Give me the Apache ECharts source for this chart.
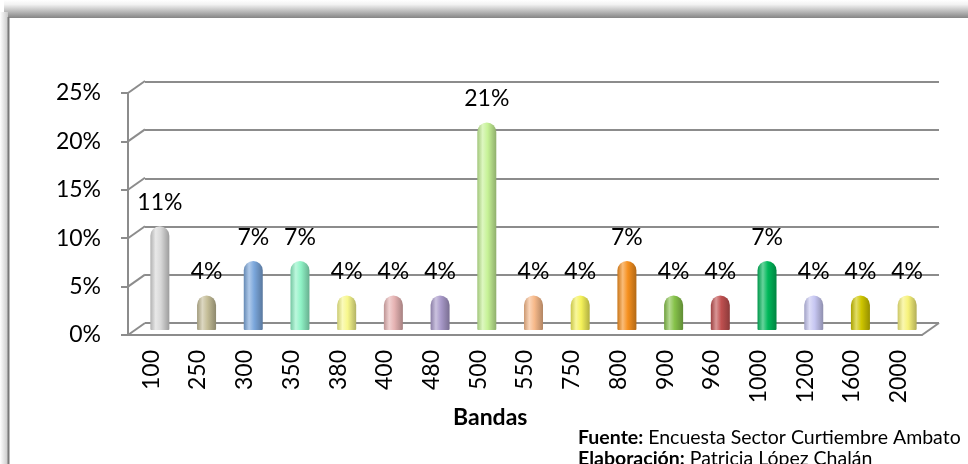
<!DOCTYPE html>
<html>
<head>
<meta charset="utf-8">
<script src="https://cdn.jsdelivr.net/npm/echarts@6/dist/echarts.min.js"></script>
<style>
  html, body { margin: 0; padding: 0; background: #ffffff; }
  #chart { width: 968px; height: 464px; }
</style>
</head>
<body>
<div id="chart"></div>
<script>
// Bandas (categorías) y porcentaje de encuestados en cada una
const categories = ['100', '250', '300', '350', '380', '400', '480', '500', '550', '750', '800', '900', '960', '1000', '1200', '1600', '2000'];
const percentages = [10.71, 3.57, 7.14, 7.14, 3.57, 3.57, 3.57, 21.43, 3.57, 3.57, 7.14, 3.57, 3.57, 7.14, 3.57, 3.57, 3.57];
const yTicks = [0, 5, 10, 15, 20, 25];
const barColors = ['#d8d8d8', '#c4bd97', '#7ba7dc', '#8ff3c6', '#f7f78c', '#e6b3b3', '#a899c9', '#c6f296', '#f7b98a', '#f5f25a', '#f6901e', '#86c24a', '#c05050', '#00b85a', '#c6c6f2', '#cfc600', '#f7f27a'];

const FONT = 'Lato';
const GRID_LINE = '#8c8c8c';
const DEPTH_X = 17, DEPTH_Y = -12;

function mix(hex, target, t) {
  const a = parseInt(hex.slice(1), 16);
  const r = (a >> 16) & 255, g = (a >> 8) & 255, b = a & 255;
  const m = (c) => Math.round(c + (target - c) * t);
  return 'rgb(' + m(r) + ',' + m(g) + ',' + m(b) + ')';
}

// cylinder shading: dark rim, bright highlight left of centre
function cylinder(hex) {
  return new echarts.graphic.LinearGradient(0, 0, 1, 0, [
    { offset: 0, color: mix(hex, 0, 0.18) },
    { offset: 0.28, color: mix(hex, 255, 0.4) },
    { offset: 0.55, color: hex },
    { offset: 1, color: mix(hex, 0, 0.28) }
  ]);
}

const chart = echarts.init(document.getElementById('chart'), null, { renderer: 'canvas' });

const option = {
  backgroundColor: '#ffffff',
  animation: false,
  textStyle: { fontFamily: FONT },
  title: [
    {
      text: 'Bandas', left: 453, top: 406, padding: 0,
      textStyle: { fontFamily: FONT, fontSize: 23, fontWeight: 'bold', color: '#000' }
    },
    {
      text: '{b|Fuente:} {n|Encuesta Sector Curtiembre Ambato}\n{b|Elaboración:} {n|Patricia López Chalán}',
      left: 578, top: 427, padding: 0,
      textStyle: {
        fontFamily: FONT, fontSize: 19.5, fontWeight: 'normal', color: '#000', lineHeight: 21,
        rich: {
          b: { fontFamily: FONT, fontSize: 19.5, fontWeight: 'bold', color: '#000', lineHeight: 21 },
          n: { fontFamily: FONT, fontSize: 19.5, fontWeight: 'normal', color: '#000', lineHeight: 21 }
        }
      }
    }
  ],
  graphic: [
    // shadow band along the top of the frame
    {
      type: 'rect', z: -10, silent: true,
      shape: { x: 4, y: 0, width: 964, height: 18 },
      style: {
        fill: new echarts.graphic.LinearGradient(0, 0, 0, 1, [
          { offset: 0, color: '#ffffff' },
          { offset: 0.25, color: '#f2f2f2' },
          { offset: 1, color: '#858585' }
        ])
      }
    },
    // soft shadow left of the frame
    {
      type: 'rect', z: -10, silent: true,
      shape: { x: 0, y: 12, width: 8, height: 452 },
      style: {
        fill: new echarts.graphic.LinearGradient(0, 0, 1, 0, [
          { offset: 0, color: '#ffffff' },
          { offset: 1, color: '#c8c8c8' }
        ])
      }
    },
    {
      type: 'line', z: -9, silent: true,
      shape: { x1: 8.5, y1: 17, x2: 8.5, y2: 464 },
      style: { stroke: '#7a7a7a', lineWidth: 2 }
    }
  ],
  grid: [
    { left: 128, right: 46, top: 93, bottom: 129 },   // front plane: axes
    { left: 145, right: 29, top: 82, bottom: 141 },   // back wall: gridlines
    { left: 136.5, right: 37.5, top: 88, bottom: 134 } // mid depth: bars
  ],
  xAxis: [
    {
      gridIndex: 0, type: 'category', data: categories,
      axisLine: { show: true, lineStyle: { color: GRID_LINE, width: 2 } },
      axisTick: { show: false },
      axisLabel: { rotate: 90, margin: 15, fontFamily: FONT, fontSize: 23, color: '#000', interval: 0 },
      splitLine: { show: false }
    },
    {
      gridIndex: 1, type: 'category', data: categories,
      axisLine: { show: false }, axisTick: { show: false }, axisLabel: { show: false }, splitLine: { show: false }
    },
    {
      gridIndex: 2, type: 'category', data: categories,
      axisLine: { show: false }, axisTick: { show: false }, axisLabel: { show: false }, splitLine: { show: false }
    }
  ],
  yAxis: [
    {
      gridIndex: 0, type: 'value', min: 0, max: 25, interval: 5,
      axisLine: { show: true, lineStyle: { color: GRID_LINE, width: 2 } },
      axisTick: { show: true, length: 7, lineStyle: { color: GRID_LINE, width: 2 } },
      axisLabel: { formatter: '{value}%', margin: 27, fontFamily: FONT, fontSize: 23, color: '#000' },
      splitLine: { show: false }
    },
    {
      gridIndex: 1, type: 'value', min: 0, max: 25, interval: 5,
      axisLine: { show: false }, axisTick: { show: false }, axisLabel: { show: false },
      splitLine: { show: true, lineStyle: { color: GRID_LINE, width: 2 } }
    },
    {
      gridIndex: 2, type: 'value', min: 0, max: 25, interval: 5,
      axisLine: { show: false }, axisTick: { show: false }, axisLabel: { show: false }, splitLine: { show: false }
    }
  ],
  series: [
    // side-wall diagonals joining each front tick to its back gridline
    {
      type: 'custom', xAxisIndex: 0, yAxisIndex: 0, silent: true, z: 1,
      data: yTicks.map(v => [categories[0], v]),
      renderItem: function (params, api) {
        const x0 = params.coordSys.x;
        const y0 = api.coord([api.value(0), api.value(1)])[1];
        return {
          type: 'line',
          shape: { x1: x0, y1: y0, x2: x0 + DEPTH_X, y2: y0 + DEPTH_Y },
          style: { stroke: GRID_LINE, lineWidth: 2 }
        };
      }
    },
    // right edge of the floor
    {
      type: 'custom', xAxisIndex: 0, yAxisIndex: 0, silent: true, z: 1,
      data: [[categories[categories.length - 1], 0]],
      renderItem: function (params, api) {
        const x0 = params.coordSys.x + params.coordSys.width;
        const y0 = api.coord([api.value(0), api.value(1)])[1];
        return {
          type: 'line',
          shape: { x1: x0, y1: y0, x2: x0 + DEPTH_X, y2: y0 + DEPTH_Y },
          style: { stroke: GRID_LINE, lineWidth: 2 }
        };
      }
    },
    {
      type: 'bar', xAxisIndex: 2, yAxisIndex: 2, z: 3,
      barWidth: 19,
      data: percentages.map((v, i) => ({
        value: v,
        itemStyle: { color: cylinder(barColors[i]), borderRadius: [9.5, 9.5, 1, 1] }
      })),
      label: {
        show: true, position: 'top', distance: 12,
        fontFamily: FONT, fontSize: 23, color: '#000',
        formatter: p => Math.round(p.value) + '%'
      }
    }
  ]
};

chart.setOption(option);
</script>
</body>
</html>
